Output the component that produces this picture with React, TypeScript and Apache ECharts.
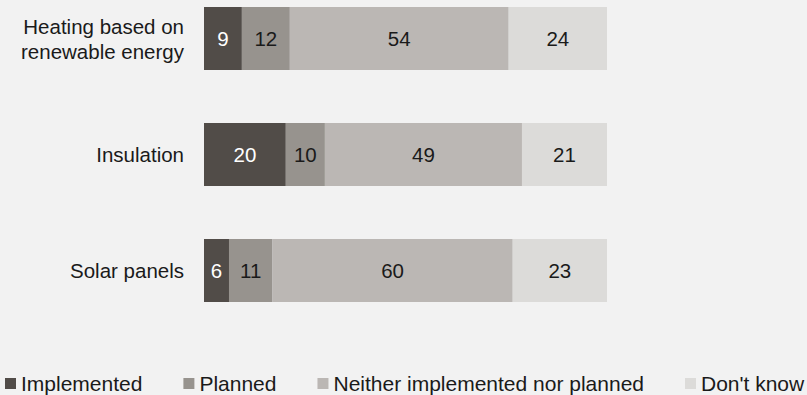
import React, { useEffect, useRef } from "react";
import * as echarts from "echarts";

const categories = ["Heating based on\nrenewable energy", "Insulation", "Solar panels"];
const seriesNames = ["Implemented", "Planned", "Neither implemented nor planned", "Don't know"];
const implemented = [9.4, 20.3, 6.2];
const planned = [11.9, 9.7, 10.8];
const neither = [54.3, 48.9, 59.6];
const dontKnow = [24.4, 21.1, 23.4];

const colors = ["#514c48", "#97938e", "#bbb7b4", "#dcdbd9"];
const labelColors = ["#ffffff", "#1a1a1a", "#1a1a1a", "#1a1a1a"];
const FONT = "Arial, 'Liberation Sans', sans-serif";

export default function App() {
  const ref = useRef<HTMLDivElement>(null);
  useEffect(() => {
    if (!ref.current) return;
    const chart = echarts.init(ref.current, null, { renderer: "svg" });
    const values = [implemented, planned, neither, dontKnow];
    chart.setOption({
      animation: false,
      backgroundColor: "#f2f2f2",
      textStyle: { fontFamily: FONT },
      grid: { left: 204, width: 403, top: 38.5, height: 232, containLabel: false },
      xAxis: {
        type: "value",
        min: 0,
        max: 100,
        show: false,
        splitLine: { show: false },
      },
      yAxis: {
        type: "category",
        data: categories,
        inverse: true,
        boundaryGap: false,
        axisLine: { show: false },
        axisTick: { show: false },
        splitLine: { show: false },
        axisLabel: {
          fontSize: 20.5,
          color: "#1a1a1a",
          margin: 20,
          lineHeight: 25,
          fontFamily: FONT,
          align: "right",
        },
      },
      legend: {
        data: seriesNames,
        left: 5,
        top: 373,
        width: 1000,
        padding: 0,
        icon: "rect",
        itemWidth: 11,
        itemHeight: 11,
        itemGap: 41,
        textStyle: { fontSize: 21, color: "#1a1a1a", fontFamily: FONT },
      },
      series: seriesNames.map((name, i) => ({
        name,
        type: "bar",
        stack: "total",
        barWidth: 63,
        clip: false,
        data: values[i],
        itemStyle: { color: colors[i] },
        label: {
          show: true,
          position: "inside",
          fontSize: 20.5,
          fontFamily: FONT,
          color: labelColors[i],
          textBorderWidth: 0,
          formatter: (p: any) => String(Math.round(p.value)),
        },
        emphasis: { disabled: true },
      })),
    });
    return () => chart.dispose();
  }, []);
  return (
    <div
      ref={ref}
      style={{ position: "fixed", left: 0, top: 0, width: 807, height: 395 }}
    />
  );
}
